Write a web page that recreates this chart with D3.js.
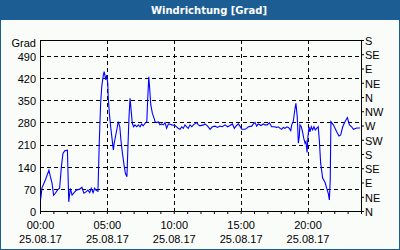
<!DOCTYPE html>
<html>
<head>
<meta charset="utf-8">
<script src="https://cdn.jsdelivr.net/npm/d3@7"></script>
<style>
  body { margin: 0; background: #fff; }
  text { font-family: "Liberation Sans", Arial, sans-serif; font-size: 11px; fill: #000; }
</style>
</head>
<body>
<script>
// wind direction readings, 25.08.17
const times = [
  "00:03","00:09","00:24","00:40","00:46","00:54","01:01","01:09","01:18","01:28",
  "01:36","01:43","01:51","02:03","02:09","02:16","02:24","02:33","02:43","02:58",
  "03:08","03:17","03:28","03:35","03:43","03:50","03:58","04:05","04:11","04:20",
  "04:26","04:32","04:37","04:44","04:48","04:55","04:59","05:04","05:06","05:11",
  "05:17","05:24","05:29","05:33","05:40","05:47","05:51","05:58","06:03","06:09",
  "06:17","06:23","06:30","06:35","06:39","06:44","06:48","06:54","07:00","07:06",
  "07:14","07:21","07:29","07:36","07:43","07:51","07:59","08:03","08:08","08:12",
  "08:17","08:24","08:33","08:36","08:44","08:51","08:58","09:06","09:13","09:21",
  "09:28","09:36","09:43","09:51","10:06","10:20","10:28","10:36","10:43","10:50",
  "10:58","11:05","11:13","11:21","11:28","11:43","11:50","11:58","12:13","12:20",
  "12:32","12:43","12:53","13:05","13:17","13:27","13:38","13:50","14:02","14:12",
  "14:23","14:32","14:42","14:50","14:57","15:05","15:20","15:27","15:35","15:50",
  "15:57","16:05","16:12","16:19","16:31","16:42","16:49","17:00","17:09","17:19",
  "17:30","17:42","17:49","17:57","18:04","18:11","18:19","18:27","18:34","18:38",
  "18:45","18:49","18:56","19:03","19:08","19:14","19:19","19:23","19:26","19:32",
  "19:38","19:43","19:49","19:53","19:58","20:02","20:07","20:11","20:17","20:23",
  "20:29","20:35","20:41","20:48","20:53","20:59","21:08","21:19","21:26","21:33",
  "21:38","21:42","21:45","21:56","22:11","22:21","22:29","22:38","22:48","22:59",
  "23:08","23:18","23:26","23:41","23:56"
];
const degrees = [
  37, 73, 98, 129, 110, 88, 50, 56, 66, 72,
  140, 182, 190, 192, 29, 71, 50, 58, 66, 69,
  75, 56, 61, 66, 58, 72, 58, 72, 66, 62,
  219, 340, 393, 429, 440, 414, 429, 403, 361, 309,
  266, 224, 193, 215, 240, 266, 282, 266, 224, 187,
  145, 119, 108, 214, 293, 356, 324, 277, 266, 272,
  266, 272, 266, 275, 269, 277, 282, 350, 424, 387,
  335, 309, 290, 282, 279, 282, 272, 275, 272, 279,
  261, 275, 274, 272, 270, 261, 258, 266, 261, 272,
  266, 261, 272, 266, 272, 279, 272, 269, 272, 275,
  268, 258, 266, 268, 264, 268, 266, 272, 266, 270,
  275, 261, 270, 275, 268, 258, 258, 261, 266, 268,
  275, 279, 268, 275, 270, 275, 272, 272, 279, 266,
  266, 264, 266, 261, 258, 264, 261, 266, 264, 261,
  254, 272, 282, 319, 340, 298, 214, 235, 272, 266,
  250, 230, 214, 219, 185, 235, 266, 250, 266, 256,
  266, 256, 261, 266, 224, 151, 104, 90, 72, 56,
  35, 98, 282, 272, 250, 237, 240, 266, 282, 295,
  272, 266, 258, 262, 262
];
const leftTicks = [0, 70, 140, 210, 280, 350, 420, 490];
const compassTicks = [0, 45, 90, 135, 180, 225, 270, 315, 360, 405, 450, 495, 540];
const compassLabels = ["N", "NE", "E", "SE", "S", "SW", "W", "NW", "N", "NE", "E", "SE", "S"];
const dayLabel = "25.08.17";
const title = "Windrichtung [Grad]";
const unit = "Grad";

const W = 400, H = 250;
const plotL = 40, plotR = 361, plotT = 40, plotB = 211;
const frameColor = "#1c5e94";

const parse = d3.timeParse("%d.%m.%y %H:%M");
const data = times.map((t, i) => ({ t: parse(dayLabel + " " + t), v: degrees[i] }));

const day0 = parse(dayLabel + " 00:00");
const x = d3.scaleTime().domain([day0, d3.timeDay.offset(day0, 1)]).range([plotL, plotR]);
const y = d3.scaleLinear().domain([0, 540]).range([plotB, plotT]);

const svg = d3.select("body").append("svg").attr("width", W).attr("height", H);

svg.append("rect").attr("width", W).attr("height", H).attr("fill", "#fafcfa");
svg.append("rect").attr("x", 0.5).attr("y", 0.5).attr("width", W - 1).attr("height", H - 1)
  .attr("fill", "none").attr("stroke", frameColor);
svg.append("rect").attr("width", W).attr("height", 20).attr("fill", frameColor);
svg.append("text").attr("x", 209).attr("y", 14).attr("text-anchor", "middle")
  .style("font-family", "'DejaVu Sans', sans-serif").style("font-size", "10px")
  .style("font-weight", "bold").style("fill", "#fff").text(title);

// dashed grid
const grid = svg.append("g").attr("stroke", "#000").attr("stroke-dasharray", "4,3")
  .attr("shape-rendering", "crispEdges");
grid.selectAll(".gy").data(leftTicks.filter(d => d > 0)).join("line")
  .attr("x1", plotL).attr("x2", plotR)
  .attr("y1", d => Math.round(y(d)) + 0.5).attr("y2", d => Math.round(y(d)) + 0.5);
const fiveHours = d3.timeHour.every(5).range(x.domain()[0], x.domain()[1]).filter(d => d.getHours() > 0);
grid.selectAll(".gx").data(fiveHours).join("line")
  .attr("y1", plotT).attr("y2", plotB)
  .attr("x1", d => Math.round(x(d)) + 0.5).attr("x2", d => Math.round(x(d)) + 0.5);

// axes
const yLeft = d3.axisLeft(y).tickValues(leftTicks).tickSize(0).tickPadding(4);
svg.append("g").attr("transform", `translate(${plotL},0)`).call(yLeft)
  .selectAll("text").style("font-family", "'Liberation Sans', Arial, sans-serif").style("font-size", "11px")
  .attr("dy", "0.4em");

const yRight = d3.axisRight(y).tickValues(compassTicks).tickSize(3).tickPadding(1)
  .tickFormat((d, i) => compassLabels[i]);
svg.append("g").attr("transform", `translate(${plotR},0)`).call(yRight)
  .selectAll("text").style("font-family", "'Liberation Sans', Arial, sans-serif").style("font-size", "11px")
  .attr("dy", "0.4em");

const xAxis = d3.axisBottom(x).ticks(d3.timeHour.every(1)).tickSize(3).tickPadding(7)
  .tickFormat(d => d.getHours() % 5 === 0 && d < x.domain()[1] ? d3.timeFormat("%H:%M")(d) : "");
const gx = svg.append("g").attr("transform", `translate(0,${plotB})`).call(xAxis);
gx.selectAll("text").style("font-family", "'Liberation Sans', Arial, sans-serif").style("font-size", "11px")
  .each(function() {
    const t = d3.select(this);
    const lbl = t.text();
    if (lbl) {
      t.text(null);
      t.append("tspan").attr("x", 0).text(lbl);
      t.append("tspan").attr("x", 0).attr("dy", "1.27em").text(dayLabel);
    }
  });

svg.append("line").attr("x1", plotL).attr("x2", plotR).attr("y1", plotT + 0.5).attr("y2", plotT + 0.5)
  .attr("stroke", "#000");

svg.append("text").attr("x", 36).attr("y", 47).attr("text-anchor", "end").text(unit);

const line = d3.line().x(d => x(d.t)).y(d => y(d.v));
svg.append("path").datum(data).attr("d", line)
  .attr("fill", "none").attr("stroke", "#0000ff").attr("stroke-width", 1.1);
</script>
</body>
</html>
